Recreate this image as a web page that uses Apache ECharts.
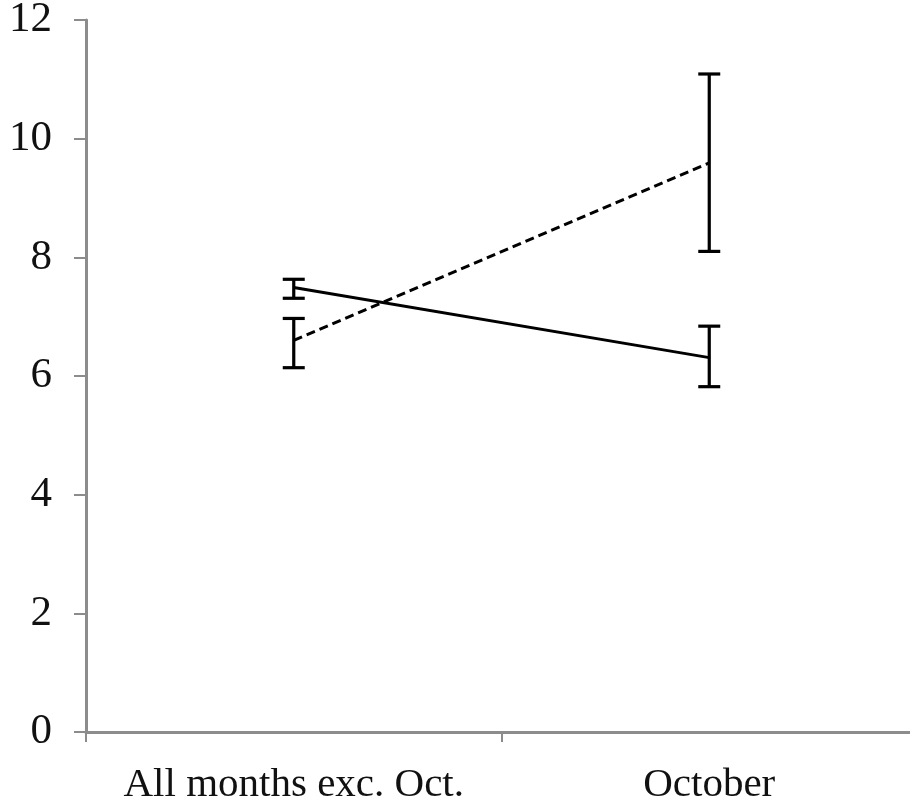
<!DOCTYPE html>
<html>
<head>
<meta charset="utf-8">
<script src="https://cdn.jsdelivr.net/npm/echarts@6/dist/echarts.min.js"></script>
<style>
html,body{margin:0;padding:0;background:#fff;}
#chart{width:910px;height:804px;}
</style>
</head>
<body>
<div id="chart"></div>
<script>
var categories = ['All months exc. Oct.', 'October'];
var yTicks = [0, 2, 4, 6, 8, 10, 12];
var solidMean = [7.49, 6.31];
var solidLow = [7.31, 5.82];
var solidHigh = [7.63, 6.84];
var dashedMean = [6.60, 9.59];
var dashedLow = [6.14, 8.10];
var dashedHigh = [6.97, 11.09];

function errData(low, high) {
  return categories.map(function (c, i) { return [i, low[i], high[i]]; });
}

function errRender(params, api) {
  var x = api.value(0);
  var lo = api.coord([x, api.value(1)]);
  var hi = api.coord([x, api.value(2)]);
  var hw = 11;
  var st = { stroke: '#000', lineWidth: 3.2 };
  return {
    type: 'group',
    children: [
      { type: 'line', shape: { x1: lo[0], y1: lo[1], x2: hi[0], y2: hi[1] }, style: st },
      { type: 'line', shape: { x1: lo[0] - hw, y1: lo[1], x2: lo[0] + hw, y2: lo[1] }, style: st },
      { type: 'line', shape: { x1: hi[0] - hw, y1: hi[1], x2: hi[0] + hw, y2: hi[1] }, style: st }
    ]
  };
}

var chart = echarts.init(document.getElementById('chart'), null, { renderer: 'canvas' });
chart.setOption({
  animation: false,
  backgroundColor: '#fff',
  grid: { left: 86, right: -7, top: 20, bottom: 72, containLabel: false, outerBoundsMode: 'none' },
  xAxis: {
    type: 'category',
    data: categories,
    boundaryGap: true,
    axisLine: { show: true, lineStyle: { color: '#8c8c8c', width: 3 } },
    axisTick: { show: true, interval: 0, length: 10, lineStyle: { color: '#8c8c8c', width: 2 } },
    axisLabel: { interval: 0, hideOverlap: false, color: '#111', fontFamily: 'Liberation Serif', fontSize: 41, margin: 33 },
    splitLine: { show: false }
  },
  yAxis: {
    type: 'value',
    min: yTicks[0],
    max: yTicks[yTicks.length - 1],
    interval: 2,
    axisLine: { show: true, lineStyle: { color: '#8c8c8c', width: 3 } },
    axisTick: { show: true, length: 12, lineStyle: { color: '#8c8c8c', width: 2 } },
    axisLabel: { color: '#111', fontFamily: 'Liberation Serif', fontSize: 43, margin: 34 },
    splitLine: { show: false }
  },
  series: [
    {
      type: 'line', data: solidMean, symbol: 'none',
      lineStyle: { color: '#000', width: 3, type: 'solid' }, z: 3
    },
    {
      type: 'line', data: dashedMean, symbol: 'none',
      lineStyle: { color: '#000', width: 3, type: [9, 5] }, z: 3
    },
    { type: 'custom', data: errData(solidLow, solidHigh), renderItem: errRender, z: 4 },
    { type: 'custom', data: errData(dashedLow, dashedHigh), renderItem: errRender, z: 4 }
  ]
});
</script>
</body>
</html>
